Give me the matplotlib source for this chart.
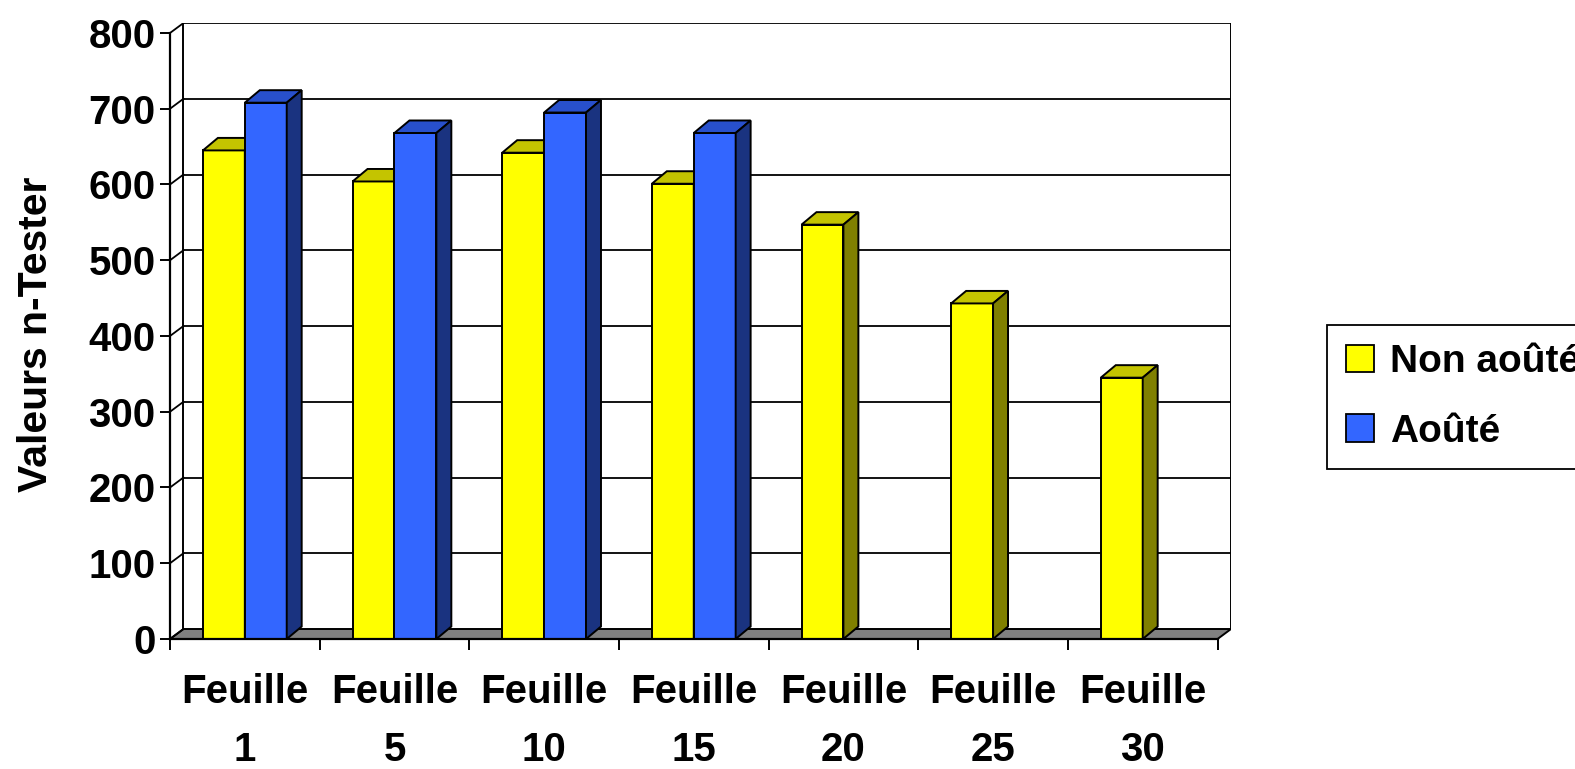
import numpy as np
import matplotlib
matplotlib.use("Agg")
import matplotlib.pyplot as plt
from matplotlib.patches import Polygon, Patch

plt.rcParams['font.family'] = ['Liberation Sans', 'DejaVu Sans']
plt.rcParams['font.weight'] = 'bold'

categories = ["Feuille\n1", "Feuille\n5", "Feuille\n10", "Feuille\n15",
              "Feuille\n20", "Feuille\n25", "Feuille\n30"]
non_aoute = [645, 604, 642, 601, 547, 443, 345]
aoute = [708, 668, 695, 668, np.nan, np.nan, np.nan]
series_names = ["Non aoûté", "Aoûté"]

# front / top / side shades for each series
yellow = ("#FFFF00", "#C4C400", "#808000")
blue = ("#3366FF", "#2850CC", "#1A3380")

ymax = 800
bar_w = 0.28
# depth of the walls and of the bars, in data units
wall_dx, wall_dy = 0.09, 13.2
bar_dx, bar_dy = 0.10, 16.5

W, H = 1575, 769
fig = plt.figure(figsize=(W / 100, H / 100), dpi=100)
ax = fig.add_axes([170 / W, 1 - 639 / H, (1231 - 170) / W, (639 - 23) / H])
ax.set_xlim(-0.5, len(categories) - 0.5 + wall_dx)
ax.set_ylim(0, ymax + wall_dy)
ax.patch.set_alpha(0)

x_lo, x_hi = -0.5, len(categories) - 0.5
edge = dict(edgecolor="black", linewidth=1.4)

# floor
ax.add_patch(Polygon([(x_lo, 0), (x_hi, 0), (x_hi + wall_dx, wall_dy), (x_lo + wall_dx, wall_dy)],
                     closed=True, facecolor="#808080", zorder=1, **edge))

# back wall gridlines, left wall diagonals and wall edges
for v in range(0, ymax + 1, 100):
    if v > 0:
        ax.plot([x_lo + wall_dx, x_hi + wall_dx], [v + wall_dy, v + wall_dy],
                color="black", lw=1.3, zorder=1.5, solid_capstyle="butt")
    ax.plot([x_lo, x_lo + wall_dx], [v, v + wall_dy], color="black", lw=1.3, zorder=1.5)
for xe in (x_lo + wall_dx, x_hi + wall_dx):
    ax.plot([xe, xe], [wall_dy, ymax + wall_dy], color="black", lw=1.4, zorder=1.5)


def draw_series(xs, vals, colours, z):
    front, top, side = colours
    ok = ~np.isnan(vals)
    bars = ax.bar(xs[ok], vals[ok], width=bar_w, align="edge", color=front,
                  zorder=z, **edge)
    for b in bars:
        x0, w, h = b.get_x(), b.get_width(), b.get_height()
        ax.add_patch(Polygon([(x0, h), (x0 + w, h), (x0 + w + bar_dx, h + bar_dy), (x0 + bar_dx, h + bar_dy)],
                             closed=True, facecolor=top, zorder=z, **edge))
        ax.add_patch(Polygon([(x0 + w, 0), (x0 + w + bar_dx, bar_dy), (x0 + w + bar_dx, h + bar_dy), (x0 + w, h)],
                             closed=True, facecolor=side, zorder=z, **edge))


pos = np.arange(len(categories))
draw_series(pos - bar_w, np.array(non_aoute, dtype=float), yellow, 3)
draw_series(pos, np.array(aoute, dtype=float), blue, 4)

# axes
for s in ("top", "right"):
    ax.spines[s].set_visible(False)
ax.spines["left"].set_bounds(0, ymax)
ax.spines["bottom"].set_bounds(x_lo, x_hi)
for s in ("left", "bottom"):
    ax.spines[s].set_linewidth(1.6)
    ax.spines[s].set_zorder(5)

ax.set_yticks(range(0, ymax + 1, 100))
ax.tick_params(axis="y", direction="out", length=7.5, width=1.4, pad=3, labelsize=29)
ax.set_xticks(np.arange(len(categories) + 1) - 0.5)
ax.set_xticklabels([])
ax.set_xticks(pos, categories, minor=True)
ax.tick_params(axis="x", which="major", direction="out", length=8, width=1.4)
ax.tick_params(axis="x", which="minor", length=0, pad=24.5, labelsize=29)
for lab in ax.get_xticklabels(minor=True):
    lab.set_linespacing(1.65)
for lab in ax.get_yticklabels() + ax.get_xticklabels(minor=True):
    lab.set_fontweight("bold")

fig.text(36 / W, 1 - 334 / H, "Valeurs n-Tester", rotation=90, ha="center", va="center",
         fontsize=29.5, fontweight="bold")

handles = [Patch(facecolor=yellow[0], edgecolor="black", linewidth=1.3),
           Patch(facecolor=blue[0], edgecolor="black", linewidth=1.3)]
leg = fig.legend(handles, series_names, loc="upper left", bbox_to_anchor=(1327 / W, 1 - 325 / H),
                 borderaxespad=0, frameon=True, fancybox=False, framealpha=1,
                 edgecolor="black", handlelength=0.72, handleheight=0.7, handletextpad=0.4,
                 borderpad=0.5, labelspacing=0.85, prop={"weight": "bold", "size": 28})
leg.get_frame().set_linewidth(1.3)

fig.savefig("out.png", dpi=100)
